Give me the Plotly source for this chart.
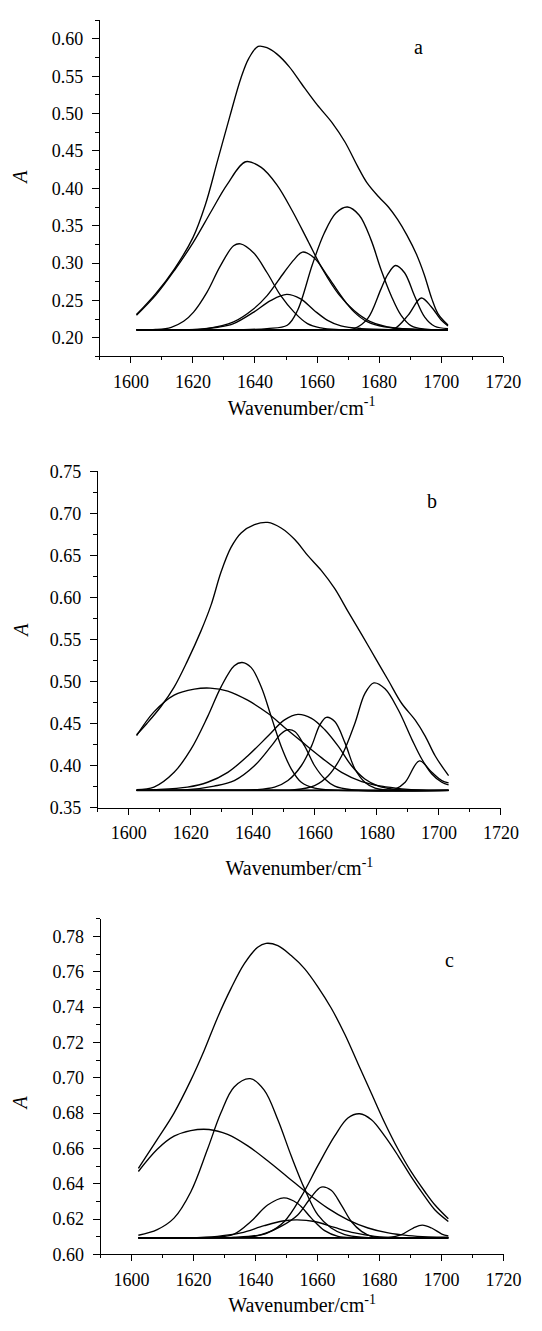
import plotly.graph_objects as go

# ---------------- Panel a ----------------
A_TOP_X = [1601.8, 1608, 1614, 1620, 1624, 1628, 1632, 1635.5, 1638, 1641, 1644, 1647, 1651, 1655, 1660, 1665, 1669, 1673, 1676, 1680, 1683, 1686, 1689, 1692, 1694.5, 1697, 1699, 1702.2]
A_TOP_Y = [0.231, 0.259, 0.292, 0.334, 0.378, 0.438, 0.498, 0.548, 0.574, 0.590, 0.588, 0.580, 0.563, 0.540, 0.512, 0.487, 0.462, 0.430, 0.408, 0.388, 0.375, 0.358, 0.337, 0.312, 0.285, 0.252, 0.232, 0.217]

A_C1_X = [1601.8, 1608, 1614, 1620, 1626, 1631, 1637, 1642, 1647, 1652, 1657, 1662, 1667, 1672, 1677, 1685, 1702.2]
A_C1_Y = [0.230, 0.257, 0.290, 0.327, 0.370, 0.405, 0.4356, 0.428, 0.405, 0.370, 0.330, 0.290, 0.258, 0.236, 0.222, 0.213, 0.2105]

A_C2_X = [1601.8, 1608, 1613, 1617, 1620.2, 1624.5, 1628.8, 1633.1, 1635.3, 1639.6, 1643.9, 1648.3, 1652.6, 1656.9, 1661.2, 1666, 1702.2]
A_C2_Y = [0.2105, 0.2110, 0.2140, 0.2220, 0.2343, 0.2607, 0.2958, 0.3231, 0.3257, 0.3134, 0.2870, 0.2563, 0.2343, 0.2189, 0.2132, 0.2110, 0.2105]

A_C3_X = [1601.8, 1615, 1622.3, 1628, 1633.1, 1639.6, 1645.0, 1650.2, 1654.7, 1659.1, 1663.4, 1667.7, 1674.2, 1702.2]
A_C3_Y = [0.2105, 0.2107, 0.2114, 0.2140, 0.2189, 0.2343, 0.2497, 0.2580, 0.2519, 0.2365, 0.2233, 0.2158, 0.2123, 0.2105]

A_C4_X = [1601.8, 1615, 1624.5, 1633.1, 1639.6, 1643.9, 1649.3, 1652.6, 1655.3, 1659.1, 1663.4, 1667.7, 1672.0, 1676.3, 1681.7, 1692.5, 1702.2]
A_C4_Y = [0.2105, 0.2108, 0.2123, 0.2211, 0.2387, 0.2563, 0.2870, 0.3046, 0.3147, 0.3068, 0.2826, 0.2563, 0.2343, 0.2211, 0.2145, 0.2114, 0.2105]

A_C5_X = [1601.8, 1635, 1643.9, 1650.4, 1653.7, 1658.5, 1662.3, 1666.1, 1669.8, 1673.6, 1677.4, 1680.6, 1683.9, 1687.1, 1690.4, 1694.7, 1702.2]
A_C5_Y = [0.2105, 0.2107, 0.2123, 0.2167, 0.2365, 0.2980, 0.3398, 0.3670, 0.3750, 0.3640, 0.3310, 0.2914, 0.2563, 0.2300, 0.2158, 0.2114, 0.2105]

A_C6_X = [1601.8, 1665, 1672.0, 1676.3, 1680.6, 1682.8, 1685.3, 1688.2, 1691.4, 1694.7, 1697.9, 1702.2]
A_C6_Y = [0.2105, 0.2107, 0.2123, 0.2255, 0.2651, 0.2848, 0.2967, 0.2870, 0.2563, 0.2277, 0.2154, 0.2123]

A_C7_X = [1601.8, 1677, 1681.7, 1685.0, 1689.3, 1693.6, 1696.8, 1700.1, 1702.2]
A_C7_Y = [0.2105, 0.2105, 0.2108, 0.2123, 0.2299, 0.2532, 0.2415, 0.2233, 0.2158]

A_BASE_X = [1601.8, 1702.2]
A_BASE_Y = [0.2105, 0.2105]

# ---------------- Panel b ----------------
B_TOP_X = [1602.5, 1605.9, 1610.3, 1614.6, 1618.9, 1623.2, 1626.5, 1629.7, 1632.9, 1636.2, 1640.5, 1644.8, 1649.1, 1653.5, 1657.8, 1662.1, 1666.4, 1670.7, 1675.1, 1679.4, 1683.7, 1688.0, 1692.3, 1695.6, 1698.8, 1703.1]
B_TOP_Y = [0.4369, 0.4506, 0.4701, 0.4935, 0.5247, 0.5597, 0.5909, 0.6299, 0.6592, 0.6767, 0.6865, 0.6892, 0.6826, 0.6689, 0.6494, 0.6319, 0.6104, 0.5831, 0.5559, 0.5286, 0.5013, 0.4740, 0.4545, 0.4350, 0.4116, 0.3882]

B_C1_X = [1602.5, 1608.1, 1614.6, 1621.1, 1626.2, 1631.9, 1638.3, 1644.8, 1650.2, 1655.6, 1662.1, 1668.6, 1675.1, 1681.5, 1688.0, 1694.5, 1703.1]
B_C1_Y = [0.4358, 0.4640, 0.4840, 0.4911, 0.4923, 0.4888, 0.4779, 0.4623, 0.4455, 0.4291, 0.4097, 0.3922, 0.3812, 0.3757, 0.3726, 0.3711, 0.3707]

B_C2_X = [1602.5, 1608.1, 1614.6, 1620.0, 1625.4, 1629.7, 1634.0, 1636.5, 1639.4, 1642.7, 1645.9, 1649.1, 1652.4, 1655.6, 1659.9, 1666.4, 1703.1]
B_C2_Y = [0.3715, 0.3746, 0.3922, 0.4194, 0.4584, 0.4935, 0.5188, 0.5227, 0.5169, 0.4935, 0.4584, 0.4233, 0.3961, 0.3804, 0.3734, 0.3710, 0.3707]

B_C3_X = [1602.5, 1612, 1618.9, 1627.5, 1634.0, 1640.5, 1645.9, 1649.1, 1651.3, 1653.5, 1656.7, 1659.9, 1663.2, 1666.4, 1671.8, 1703.1]
B_C3_Y = [0.3707, 0.3709, 0.3715, 0.3758, 0.3824, 0.4000, 0.4233, 0.4381, 0.4428, 0.4408, 0.4233, 0.4000, 0.3843, 0.3758, 0.3715, 0.3707]

B_C4_X = [1602.5, 1608.1, 1618.9, 1625.4, 1631.9, 1638.3, 1644.8, 1650.2, 1654.5, 1658.9, 1663.2, 1667.5, 1671.8, 1676.1, 1680.5, 1685.9, 1693.4, 1703.1]
B_C4_Y = [0.3707, 0.3715, 0.3746, 0.3804, 0.3922, 0.4116, 0.4350, 0.4545, 0.4611, 0.4564, 0.4428, 0.4233, 0.4000, 0.3843, 0.3758, 0.3719, 0.3709, 0.3707]

B_C5_X = [1602.5, 1632, 1640.5, 1647.0, 1651.3, 1655.6, 1658.9, 1661.6, 1663.7, 1666.4, 1669.7, 1672.9, 1676.1, 1679.4, 1683.7, 1703.1]
B_C5_Y = [0.3707, 0.3709, 0.3715, 0.3746, 0.3824, 0.4000, 0.4233, 0.4486, 0.4576, 0.4525, 0.4272, 0.3961, 0.3804, 0.3734, 0.3710, 0.3707]

B_C6_X = [1602.5, 1645, 1653.5, 1659.9, 1664.3, 1668.6, 1672.9, 1676.1, 1679.0, 1682.6, 1686.9, 1691.3, 1694.5, 1697.7, 1700.9, 1703.1]
B_C6_Y = [0.3707, 0.3709, 0.3715, 0.3765, 0.3882, 0.4116, 0.4506, 0.4857, 0.4985, 0.4915, 0.4662, 0.4311, 0.4077, 0.3902, 0.3804, 0.3773]

B_C7_X = [1602.5, 1676, 1682.6, 1685.9, 1689.1, 1693.7, 1697.7, 1700.9, 1703.1]
B_C7_Y = [0.3707, 0.3707, 0.3709, 0.3722, 0.3804, 0.4058, 0.3922, 0.3824, 0.3796]

B_BASE_X = [1602.5, 1703.1]
B_BASE_Y = [0.3707, 0.3707]

# ---------------- Panel c ----------------
C_TOP_X = [1602.2, 1608.3, 1613.7, 1619.1, 1623.4, 1627.7, 1632.1, 1636.4, 1640.7, 1643.4, 1647.2, 1651.5, 1655.8, 1660.1, 1664.4, 1668.8, 1673.1, 1677.4, 1681.7, 1686.0, 1690.3, 1694.7, 1697.9, 1702.2]
C_TOP_Y = [0.6487, 0.6651, 0.6800, 0.6985, 0.7153, 0.7339, 0.7506, 0.7646, 0.7739, 0.7761, 0.7748, 0.7692, 0.7618, 0.7515, 0.7395, 0.7246, 0.7078, 0.6911, 0.6744, 0.6595, 0.6465, 0.6353, 0.6279, 0.6201]

C_C1_X = [1602.2, 1608.3, 1613.7, 1619.1, 1625.0, 1631.0, 1637.5, 1643.9, 1650.4, 1656.9, 1663.4, 1669.8, 1676.3, 1682.8, 1689.3, 1695.7, 1702.2]
C_C1_Y = [0.6469, 0.6595, 0.6669, 0.6701, 0.6707, 0.6679, 0.6614, 0.6530, 0.6437, 0.6344, 0.6260, 0.6195, 0.6149, 0.6121, 0.6106, 0.6099, 0.6097]

C_C2_X = [1602.2, 1608.3, 1613.7, 1619.1, 1624.5, 1628.8, 1633.1, 1638.3, 1642.8, 1647.2, 1651.5, 1655.8, 1660.1, 1664.4, 1668.8, 1674.2, 1702.2]
C_C2_Y = [0.6108, 0.6140, 0.6205, 0.6353, 0.6595, 0.6800, 0.6948, 0.6995, 0.6930, 0.6762, 0.6558, 0.6372, 0.6223, 0.6149, 0.6112, 0.6097, 0.6093]

C_C3_X = [1602.2, 1620, 1626.7, 1633.1, 1638.5, 1643.9, 1649.1, 1653.6, 1658.0, 1662.3, 1666.6, 1672.0, 1702.2]
C_C3_Y = [0.6093, 0.6094, 0.6097, 0.6115, 0.6186, 0.6279, 0.6320, 0.6288, 0.6205, 0.6134, 0.6102, 0.6094, 0.6093]

C_C4_X = [1602.2, 1618.0, 1627.7, 1635.3, 1642.8, 1649.3, 1653.4, 1659.0, 1665.5, 1672.0, 1678.5, 1687.1, 1702.2]
C_C4_Y = [0.6093, 0.6094, 0.6102, 0.6121, 0.6162, 0.6190, 0.6195, 0.6186, 0.6152, 0.6121, 0.6102, 0.6094, 0.6093]

C_C5_X = [1602.2, 1625, 1633.1, 1641.8, 1648.2, 1653.6, 1658.0, 1661.2, 1664.4, 1667.7, 1670.9, 1674.2, 1677.4, 1682.8, 1702.2]
C_C5_Y = [0.6093, 0.6094, 0.6096, 0.6112, 0.6158, 0.6223, 0.6325, 0.6381, 0.6363, 0.6279, 0.6186, 0.6130, 0.6102, 0.6094, 0.6093]

C_C6_X = [1602.2, 1625, 1633.1, 1639.6, 1643.9, 1649.3, 1654.7, 1660.1, 1665.5, 1669.8, 1673.6, 1677.4, 1681.7, 1686.0, 1690.3, 1694.7, 1697.9, 1702.2]
C_C6_Y = [0.6093, 0.6093, 0.6095, 0.6102, 0.6121, 0.6186, 0.6325, 0.6502, 0.6669, 0.6772, 0.6796, 0.6762, 0.6669, 0.6558, 0.6437, 0.6325, 0.6251, 0.6186]

C_C7_X = [1602.2, 1677, 1682.8, 1687.1, 1690.9, 1693.8, 1696.8, 1700.1, 1702.2]
C_C7_Y = [0.6093, 0.6093, 0.6095, 0.6112, 0.6149, 0.6165, 0.6149, 0.6115, 0.6104]

C_BASE_X = [1602.2, 1702.2]
C_BASE_Y = [0.6093, 0.6093]

PANEL_LABELS = ["a", "b", "c"]
X_TITLE = "Wavenumber/cm<sup>-1</sup>"
Y_TITLE = "<i>A</i>"

panels = [
    ("x", "y", [(A_TOP_X, A_TOP_Y), (A_C1_X, A_C1_Y), (A_C2_X, A_C2_Y), (A_C3_X, A_C3_Y),
                (A_C4_X, A_C4_Y), (A_C5_X, A_C5_Y), (A_C6_X, A_C6_Y), (A_C7_X, A_C7_Y)], (A_BASE_X, A_BASE_Y)),
    ("x2", "y2", [(B_TOP_X, B_TOP_Y), (B_C1_X, B_C1_Y), (B_C2_X, B_C2_Y), (B_C3_X, B_C3_Y),
                  (B_C4_X, B_C4_Y), (B_C5_X, B_C5_Y), (B_C6_X, B_C6_Y), (B_C7_X, B_C7_Y)], (B_BASE_X, B_BASE_Y)),
    ("x3", "y3", [(C_TOP_X, C_TOP_Y), (C_C1_X, C_C1_Y), (C_C2_X, C_C2_Y), (C_C3_X, C_C3_Y),
                  (C_C4_X, C_C4_Y), (C_C5_X, C_C5_Y), (C_C6_X, C_C6_Y), (C_C7_X, C_C7_Y)], (C_BASE_X, C_BASE_Y)),
]

fig = go.Figure()
for xa, ya, curves, base in panels:
    fig.add_trace(go.Scatter(x=base[0], y=base[1], xaxis=xa, yaxis=ya, mode="lines",
                             line=dict(color="black", width=1.6), showlegend=False, hoverinfo="skip"))
    for cx, cy in curves:
        fig.add_trace(go.Scatter(x=cx, y=cy, xaxis=xa, yaxis=ya, mode="lines",
                                 line=dict(color="black", width=1.35, shape="spline", smoothing=1.0),
                                 showlegend=False))

W, H = 542, 1331
FONT = "Liberation Serif"
tickfont = dict(family=FONT, size=18, color="black")


def xaxis_cfg(left, right, anchor, standoff):
    return dict(domain=[left / W, right / W], anchor=anchor, range=[1590, 1720],
                tick0=1600, dtick=20, ticks="outside", ticklen=6, tickwidth=1, tickcolor="black",
                minor=dict(dtick=10, tick0=1600, ticks="outside", ticklen=3, tickcolor="black"),
                showline=True, linecolor="black", linewidth=1, showgrid=False, zeroline=False,
                tickfont=tickfont, ticklabelstandoff=3,
                title=dict(text=X_TITLE, font=dict(family=FONT, size=20, color="black"), standoff=standoff))


def yaxis_cfg(top, bottom, anchor, rng, t0, dtick, minor_dtick):
    return dict(domain=[1 - bottom / H, 1 - top / H], anchor=anchor, range=rng,
                tick0=t0, dtick=dtick, tickformat=".2f", ticks="outside", ticklen=7, tickwidth=1,
                tickcolor="black",
                minor=dict(dtick=minor_dtick, tick0=t0, ticks="outside", ticklen=4, tickcolor="black"),
                showline=True, linecolor="black", linewidth=1, showgrid=False, zeroline=False,
                tickfont=tickfont, ticklabelstandoff=5)


fig.update_layout(
    width=W, height=H, margin=dict(l=0, r=0, t=0, b=0), autosize=False,
    paper_bgcolor="white", plot_bgcolor="white",
    xaxis=xaxis_cfg(103.3, 520.5, "y", 9),
    yaxis=yaxis_cfg(10.4, 351.7, "x", [0.175, 0.625], 0.2, 0.05, 0.025),
    xaxis2=xaxis_cfg(101.2, 518.2, "y2", 18),
    yaxis2=yaxis_cfg(468.3, 810.0, "x2", [0.35, 0.75], 0.35, 0.05, 0.025),
    xaxis3=xaxis_cfg(104.0, 520.8, "y3", 9),
    yaxis3=yaxis_cfg(922.7, 1263.3, "x3", [0.60, 0.79], 0.60, 0.02, 0.01),
)

annots = []
for lbl, (px, py) in zip(PANEL_LABELS, [(433, 38), (447, 498), (465, 965)]):
    annots.append(dict(text=lbl, x=px / W, y=1 - py / H, xref="paper", yref="paper",
                       showarrow=False, xanchor="center", yanchor="middle",
                       font=dict(family=FONT, size=20, color="black")))
for py in [170, 630, 1110]:
    annots.append(dict(text=Y_TITLE, x=21 / W, y=1 - py / H, xref="paper", yref="paper",
                       showarrow=False, xanchor="center", yanchor="middle", textangle=-90,
                       font=dict(family=FONT, size=20, color="black")))
fig.update_layout(annotations=annots)

fig.write_html("out.html")
